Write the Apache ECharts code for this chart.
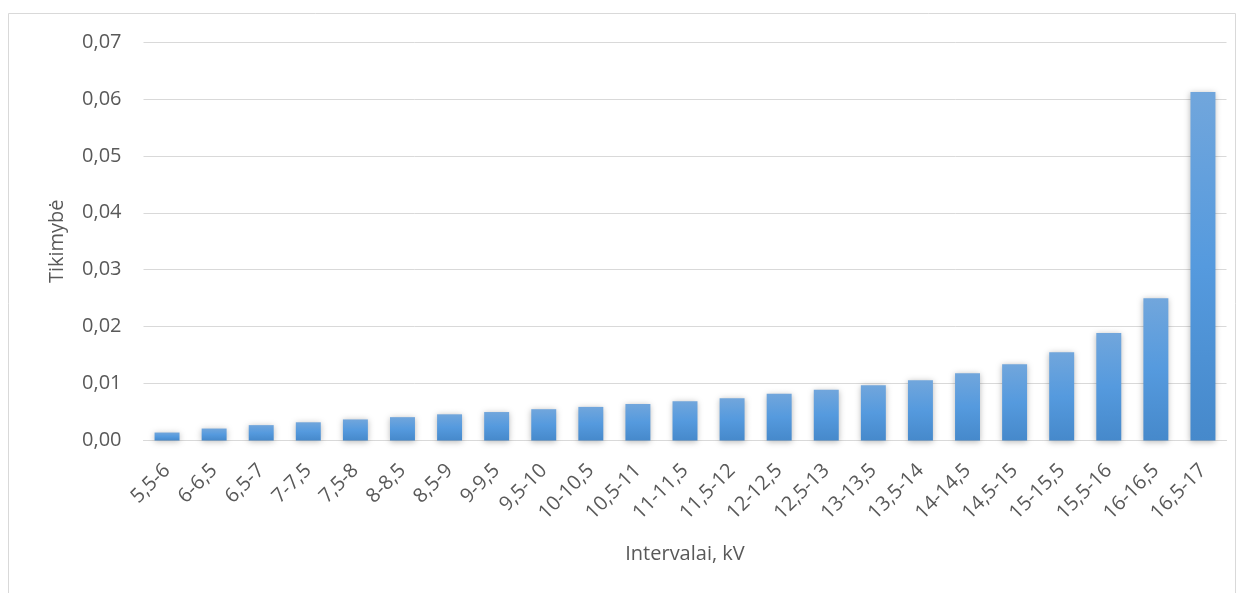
<!DOCTYPE html>
<html><head><meta charset="utf-8">
<script src="https://cdn.jsdelivr.net/npm/echarts@6/dist/echarts.min.js"></script>
<style>html,body{margin:0;padding:0;background:#fff}#c{width:1243px;height:593px}</style>
</head><body><div id="c"></div>
<script>
const categories = ["5,5-6","6-6,5","6,5-7","7-7,5","7,5-8","8-8,5","8,5-9","9-9,5","9,5-10","10-10,5","10,5-11","11-11,5","11,5-12","12-12,5","12,5-13","13-13,5","13,5-14","14-14,5","14,5-15","15-15,5","15,5-16","16-16,5","16,5-17"];
const probabilities = [0.0014,0.0021,0.0027,0.0032,0.0037,0.0041,0.0046,0.0050,0.0055,0.0059,0.0064,0.0069,0.0074,0.0082,0.0089,0.0097,0.0106,0.0118,0.0134,0.0155,0.0189,0.0250,0.0612];
const yTitle = "Tikimybė";
const xTitle = "Intervalai, kV";

const chart = echarts.init(document.getElementById('c'), null, {renderer:'canvas'});
const font = "'Open Sans', 'DejaVu Sans', sans-serif";
chart.setOption({
  animation:false,
  backgroundColor:'#fff',
  graphic:[{type:'rect',shape:{x:8.5,y:13.5,width:1227,height:600},style:{fill:'none',stroke:'#d9d9d9',lineWidth:1},silent:true}],
  grid:{left:143.5,right:16.5,top:42,bottom:152.5},
  xAxis:{
    type:'category',data:categories,
    name:xTitle,nameLocation:'middle',nameGap:104,
    nameTextStyle:{fontFamily:font,fontSize:20,color:'#595959'},
    axisLine:{lineStyle:{color:'#d9d9d9',width:1}},
    axisTick:{show:false},
    axisLabel:{rotate:45,interval:0,fontFamily:font,fontSize:20,color:'#595959',margin:27}
  },
  yAxis:{
    type:'value',min:0,max:0.07,interval:0.01,
    name:yTitle,nameLocation:'middle',nameGap:76,
    nameTextStyle:{fontFamily:font,fontSize:20,color:'#595959'},
    axisLine:{show:false},axisTick:{show:false},
    splitLine:{lineStyle:{color:'#d9d9d9',width:1}},
    axisLabel:{fontFamily:font,fontSize:20,color:'#595959',margin:22,
      formatter:v=>v.toFixed(2).replace('.',',')}
  },
  series:[{
    type:'bar',data:probabilities,barCategoryGap:'47%',
    itemStyle:{
      color:new echarts.graphic.LinearGradient(0,0,0,1,[{offset:0,color:'#71a6dc'},{offset:0.5,color:'#559ade'},{offset:1,color:'#4689cb'}]),
      shadowBlur:6,shadowColor:'rgba(0,0,0,0.28)',shadowOffsetX:0,shadowOffsetY:1
    }
  }]
});
</script></body></html>
